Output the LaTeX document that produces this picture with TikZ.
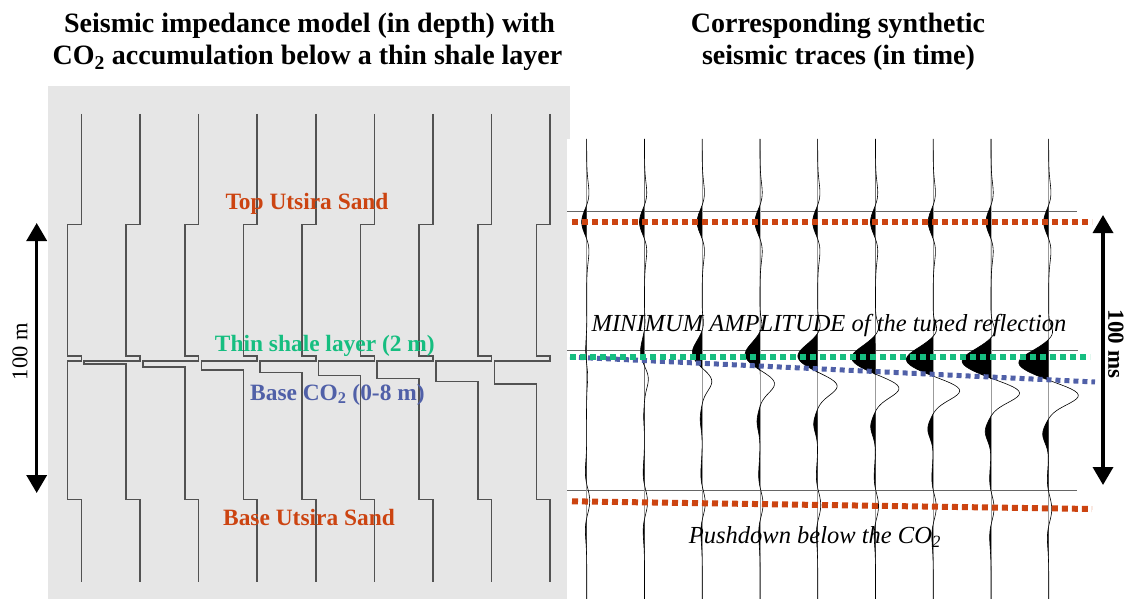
\documentclass[tikz,border=0pt]{standalone}
\usepackage{fontspec}
\setmainfont{Liberation Serif}
\usetikzlibrary{arrows.meta}

\definecolor{utsirared}{RGB}{204,68,17}
\definecolor{shalegreen}{RGB}{22,190,128}
\definecolor{co2blue}{RGB}{80,96,168}
\definecolor{panelgray}{RGB}{230,230,230}

\begin{document}
\begin{tikzpicture}[x=1pt,y=-1pt,
  declare function={rk(\wu)=(1-2*(\wu/24)^2)*exp(-min((\wu/24)^2,12));
    gs(\wu,\ws)=exp(-min(0.5*(\wu/\ws)^2,12));
    wig(\wy,\wi,\wa,\wb)=-5*rk(\wy-222)+\wa*(0.15*gs(\wy-322-1.4*\wi,7)-gs(\wy-350-1.6*\wi,11)+gs(\wy-376-2.4*\wi,9.5)-0.2*gs(\wy-414-2.5*\wi,9))+3*rk(\wy-\wb);}]

     \tikzstyle{titletext}=[anchor=base,font=\fontsize{28}{32}\selectfont\bfseries]
     \tikzstyle{layertext}=[anchor=base,font=\fontsize{23.4}{28}\selectfont\bfseries]
     \tikzstyle{notetext}=[anchor=base,font=\fontsize{24.5}{28}\selectfont\itshape]
     \tikzstyle{imptrace}=[draw=black!68,line width=1.6pt]
     \tikzstyle{zeroline}=[draw=black!30,line width=1pt]
     \tikzstyle{wiggle}=[draw=black,line width=0.6pt]
     \tikzstyle{horizon}=[draw=black!60,line width=0.8pt]
     \tikzstyle{reddots}=[draw=utsirared,line width=6pt,dash pattern=on 6pt off 4pt]
     \tikzstyle{greendots}=[draw=shalegreen,line width=6pt,dash pattern=on 6pt off 4pt]
     \tikzstyle{bluedots}=[draw=co2blue,line width=5pt,dash pattern=on 5pt off 4pt]
     \tikzstyle{dimarrow}=[{Triangle[length=18pt,width=20pt]}-{Triangle[length=18pt,width=20pt]},line width=3.5pt]

     \useasboundingbox (0,0) rectangle (1127,599);

     % titles
     \node[titletext] (tl1) at (309.5,33) {Seismic impedance model (in depth) with};
     \node[titletext] (tl2) at (307.5,65) {CO\textsubscript{2} accumulation below a thin shale layer};
     \node[titletext] (tr1) at (838,33) {Corresponding synthetic};
     \node[titletext] (tr2) at (838.5,65) {seismic traces (in time)};

     % panels
     \fill[panelgray] (47.5,86) rectangle (570,599);
     \fill[white] (567,139) rectangle (1078,599);

     % impedance model
     \draw[imptrace] (81.3,114) -- (81.3,224.6) -- (67.5,224.6) -- (67.5,355.8) -- (81.3,355.8) -- (81.3,361) -- (67.5,361) -- (67.5,499.4) -- (81.3,499.4) -- (81.3,582);
     \draw[imptrace] (139.9,114) -- (139.9,224.6) -- (126.1,224.6) -- (126.1,355.8) -- (139.9,355.8) -- (139.9,361) -- (84.1,361) -- (84.1,363.9) -- (126.1,363.9) -- (126.1,499.4) -- (139.9,499.4) -- (139.9,582);
     \draw[imptrace] (198.5,114) -- (198.5,224.6) -- (184.7,224.6) -- (184.7,355.8) -- (198.5,355.8) -- (198.5,361) -- (142.7,361) -- (142.7,366.8) -- (184.7,366.8) -- (184.7,499.4) -- (198.5,499.4) -- (198.5,582);
     \draw[imptrace] (257.1,114) -- (257.1,224.6) -- (243.3,224.6) -- (243.3,355.8) -- (257.1,355.8) -- (257.1,361) -- (201.3,361) -- (201.3,369.7) -- (243.3,369.7) -- (243.3,499.4) -- (257.1,499.4) -- (257.1,582);
     \draw[imptrace] (315.7,114) -- (315.7,224.6) -- (301.9,224.6) -- (301.9,355.8) -- (315.7,355.8) -- (315.7,361) -- (259.9,361) -- (259.9,372.6) -- (301.9,372.6) -- (301.9,499.4) -- (315.7,499.4) -- (315.7,582);
     \draw[imptrace] (374.3,114) -- (374.3,224.6) -- (360.5,224.6) -- (360.5,355.8) -- (374.3,355.8) -- (374.3,361) -- (318.5,361) -- (318.5,375.5) -- (360.5,375.5) -- (360.5,499.4) -- (374.3,499.4) -- (374.3,582);
     \draw[imptrace] (432.9,114) -- (432.9,224.6) -- (419.1,224.6) -- (419.1,355.8) -- (432.9,355.8) -- (432.9,361) -- (377.1,361) -- (377.1,378.4) -- (419.1,378.4) -- (419.1,499.4) -- (432.9,499.4) -- (432.9,582);
     \draw[imptrace] (491.5,114) -- (491.5,224.6) -- (477.7,224.6) -- (477.7,355.8) -- (491.5,355.8) -- (491.5,361) -- (435.7,361) -- (435.7,381.3) -- (477.7,381.3) -- (477.7,499.4) -- (491.5,499.4) -- (491.5,582);
     \draw[imptrace] (550.1,114) -- (550.1,224.6) -- (536.3,224.6) -- (536.3,355.8) -- (550.1,355.8) -- (550.1,361) -- (494.3,361) -- (494.3,384.2) -- (536.3,384.2) -- (536.3,499.4) -- (550.1,499.4) -- (550.1,582);

     \node[layertext,text=utsirared] (topsand) at (307,209) {Top Utsira Sand};
     \node[layertext,text=shalegreen] (shale) at (324.8,351.5) {Thin shale layer (2 m)};
     \node[layertext,text=co2blue] (baseco2) at (337.4,400) {Base CO\textsubscript{2} (0-8 m)};
     \node[layertext,text=utsirared] (basesand) at (309,525.6) {Base Utsira Sand};

     \coordinate (dtop) at (36.7,223);
     \coordinate (dbot) at (36.7,493);
     \draw[dimarrow] (dtop) -- (dbot);
     \node[rotate=90,font=\fontsize{22.5}{26}\selectfont] (depthlbl) at (20,351.7) {100 m};

     % synthetic traces
     \draw[horizon] (567,211.5) -- (1077,211.5);
     \draw[horizon] (567,350.7) -- (1078,350.7);
     \draw[horizon] (567,490.3) -- (1077,490.3);

     \draw[zeroline] (586.7,139) -- (586.7,599);
     \draw[zeroline] (644.5,139) -- (644.5,599);
     \draw[zeroline] (702.2,139) -- (702.2,599);
     \draw[zeroline] (760.0,139) -- (760.0,599);
     \draw[zeroline] (817.7,139) -- (817.7,599);
     \draw[zeroline] (875.5,139) -- (875.5,599);
     \draw[zeroline] (933.2,139) -- (933.2,599);
     \draw[zeroline] (991.0,139) -- (991.0,599);
     \draw[zeroline] (1048.7,139) -- (1048.7,599);

     \fill[black] plot[variable=\t,domain=139:599,samples=231] ({586.7+min(0,wig(\t,0,1,501))},{\t}) -- cycle;
     \draw[wiggle] plot[variable=\t,domain=139:599,samples=231] ({586.7+wig(\t,0,1,501)},{\t});
     \fill[black] plot[variable=\t,domain=139:599,samples=231] ({644.5+min(0,wig(\t,1,4,502))},{\t}) -- cycle;
     \draw[wiggle] plot[variable=\t,domain=139:599,samples=231] ({644.5+wig(\t,1,4,502)},{\t});
     \fill[black] plot[variable=\t,domain=139:599,samples=231] ({702.2+min(0,wig(\t,2,10,503))},{\t}) -- cycle;
     \draw[wiggle] plot[variable=\t,domain=139:599,samples=231] ({702.2+wig(\t,2,10,503)},{\t});
     \fill[black] plot[variable=\t,domain=139:599,samples=231] ({760.0+min(0,wig(\t,3,15,504))},{\t}) -- cycle;
     \draw[wiggle] plot[variable=\t,domain=139:599,samples=231] ({760.0+wig(\t,3,15,504)},{\t});
     \fill[black] plot[variable=\t,domain=139:599,samples=231] ({817.7+min(0,wig(\t,4,20,505))},{\t}) -- cycle;
     \draw[wiggle] plot[variable=\t,domain=139:599,samples=231] ({817.7+wig(\t,4,20,505)},{\t});
     \fill[black] plot[variable=\t,domain=139:599,samples=231] ({875.5+min(0,wig(\t,5,24,506))},{\t}) -- cycle;
     \draw[wiggle] plot[variable=\t,domain=139:599,samples=231] ({875.5+wig(\t,5,24,506)},{\t});
     \fill[black] plot[variable=\t,domain=139:599,samples=231] ({933.2+min(0,wig(\t,6,27,507))},{\t}) -- cycle;
     \draw[wiggle] plot[variable=\t,domain=139:599,samples=231] ({933.2+wig(\t,6,27,507)},{\t});
     \fill[black] plot[variable=\t,domain=139:599,samples=231] ({991.0+min(0,wig(\t,7,29,508))},{\t}) -- cycle;
     \draw[wiggle] plot[variable=\t,domain=139:599,samples=231] ({991.0+wig(\t,7,29,508)},{\t});
     \fill[black] plot[variable=\t,domain=139:599,samples=231] ({1048.7+min(0,wig(\t,8,30,509))},{\t}) -- cycle;
     \draw[wiggle] plot[variable=\t,domain=139:599,samples=231] ({1048.7+wig(\t,8,30,509)},{\t});

     % picked horizons
     \draw[reddots] (572,222) -- (1092,222);
     \draw[bluedots] (570,357) -- (1095,382);
     \draw[greendots] (570,357) -- (1090,357);
     \draw[reddots] (572,501.3) -- (1092,509);

     \node[notetext] (minamp) at (829,331.7) {MINIMUM AMPLITUDE of the tuned reflection};
     \node[notetext] (pushdown) at (815,543.7) {Pushdown below the CO\textsubscript{2}};

     \coordinate (ttop) at (1103,215);
     \coordinate (tbot) at (1103,485);
     \draw[dimarrow] (ttop) -- (tbot);
     \node[rotate=-90,font=\fontsize{23}{27}\selectfont\bfseries] (timelbl) at (1116,344) {100 ms};

\end{tikzpicture}
\end{document}
